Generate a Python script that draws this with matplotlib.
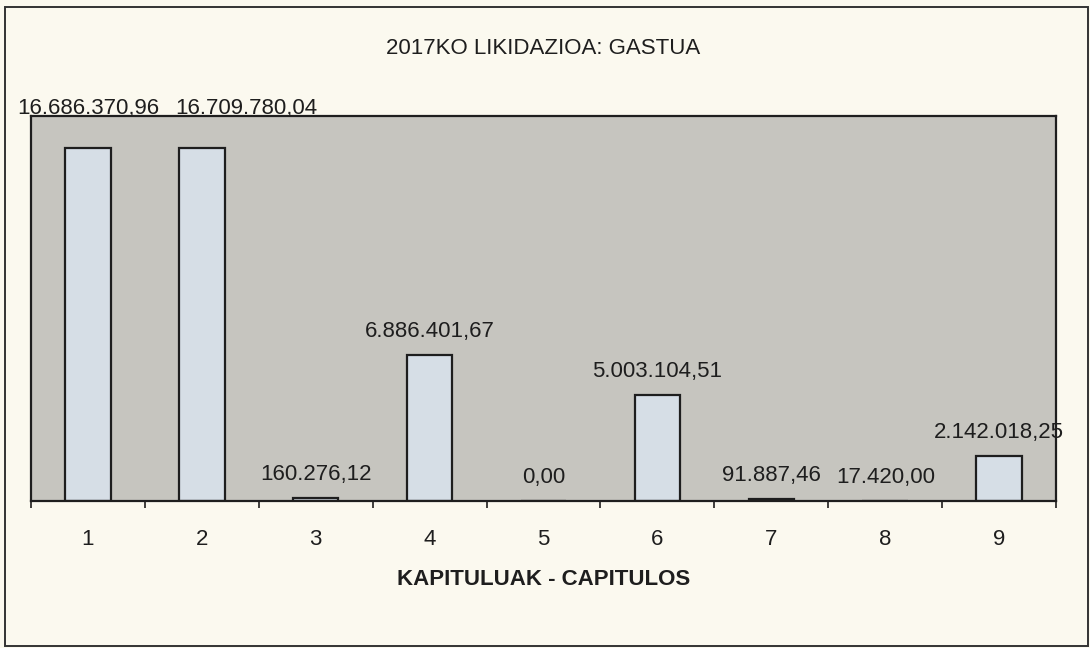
import matplotlib
matplotlib.use("Agg")
import matplotlib.pyplot as plt
from matplotlib.patches import Rectangle
from matplotlib.ticker import FixedLocator
from matplotlib.transforms import offset_copy

# Expenditure by budget chapter, 2017 settlement
chapters = ["1", "2", "3", "4", "5", "6", "7", "8", "9"]
spending = [16686370.96, 16709780.04, 160276.12, 6886401.67, 0.00,
            5003104.51, 91887.46, 17420.00, 2142018.25]

title = "2017KO LIKIDAZIOA: GASTUA"
xlabel = "KAPITULUAK - CAPITULOS"

PAPER = "#fbf9ef"
PLOT_BG = "#c6c5bf"
BAR_FILL = "#d6dee6"
INK = "#1e1e1e"

plt.rcParams["font.family"] = ["Liberation Sans", "DejaVu Sans"]


def euro(v):
    # Spanish style: dot for thousands, comma for decimals
    s = f"{v:,.2f}"
    return s.replace(",", "_").replace(".", ",").replace("_", ".")


fig = plt.figure(figsize=(10.9, 6.48), dpi=100, facecolor=PAPER)
ax = fig.add_axes([31 / 1090, 1 - 501 / 648, 1025 / 1090, 385 / 648])
ax.set_facecolor(PLOT_BG)

x = list(range(1, len(chapters) + 1))
ax.bar(x, spending, width=0.4, color=BAR_FILL, edgecolor=INK, linewidth=1.6,
       zorder=2)

ymax = 18.2e6
ax.set_xlim(0.5, len(chapters) + 0.5)
ax.set_ylim(0, ymax)

for side in ("top", "bottom", "left", "right"):
    ax.spines[side].set_color(INK)
    ax.spines[side].set_linewidth(1.6)

ax.set_yticks([])
ax.set_xticks(x)
ax.set_xticklabels(chapters, fontsize=16, color=INK)
ax.tick_params(axis="x", which="major", length=0, pad=20)
ax.xaxis.set_minor_locator(FixedLocator([i + 0.5 for i in range(0, len(chapters) + 1)]))
ax.tick_params(axis="x", which="minor", length=5, width=1.2, color=INK,
               direction="out")
ax.set_xlabel(xlabel, fontsize=16, fontweight="bold", color=INK, labelpad=14)

# value labels sit above each bar, but never climb past the frame top;
# a label that would collide with its left neighbour is nudged right
pad = 0.047 * ymax
text_h = 0.042 * ymax
gap_px = 16
renderer = fig.canvas.get_renderer()
prev = None
for xi, v in zip(x, spending):
    y = v + pad
    if y + text_h > ymax:
        y = ymax + 0.005 * ymax
    t = ax.text(xi, y, euro(v), ha="center", va="baseline", fontsize=16,
                color=INK, clip_on=False, zorder=3)
    bb = t.get_window_extent(renderer)
    same_row = prev is not None and bb.y0 < prev.y1 and bb.y1 > prev.y0
    if same_row and bb.x0 < prev.x1 + gap_px:
        shift = prev.x1 + gap_px - bb.x0
        t.set_transform(offset_copy(ax.transData, fig=fig, x=shift, y=0,
                                    units="dots"))
        bb = t.get_window_extent(renderer)
    prev = bb

fig.text(543 / 1090, 1 - 48 / 648, title, ha="center", va="center",
         fontsize=16, color=INK)

# outer chart border
fig.patches.append(Rectangle((5 / 1090, 1 - 646 / 648), 1083 / 1090, 639 / 648,
                             transform=fig.transFigure, fill=False,
                             edgecolor="#333333", linewidth=1.4))

fig.savefig("out.png", dpi=100, facecolor=PAPER)
